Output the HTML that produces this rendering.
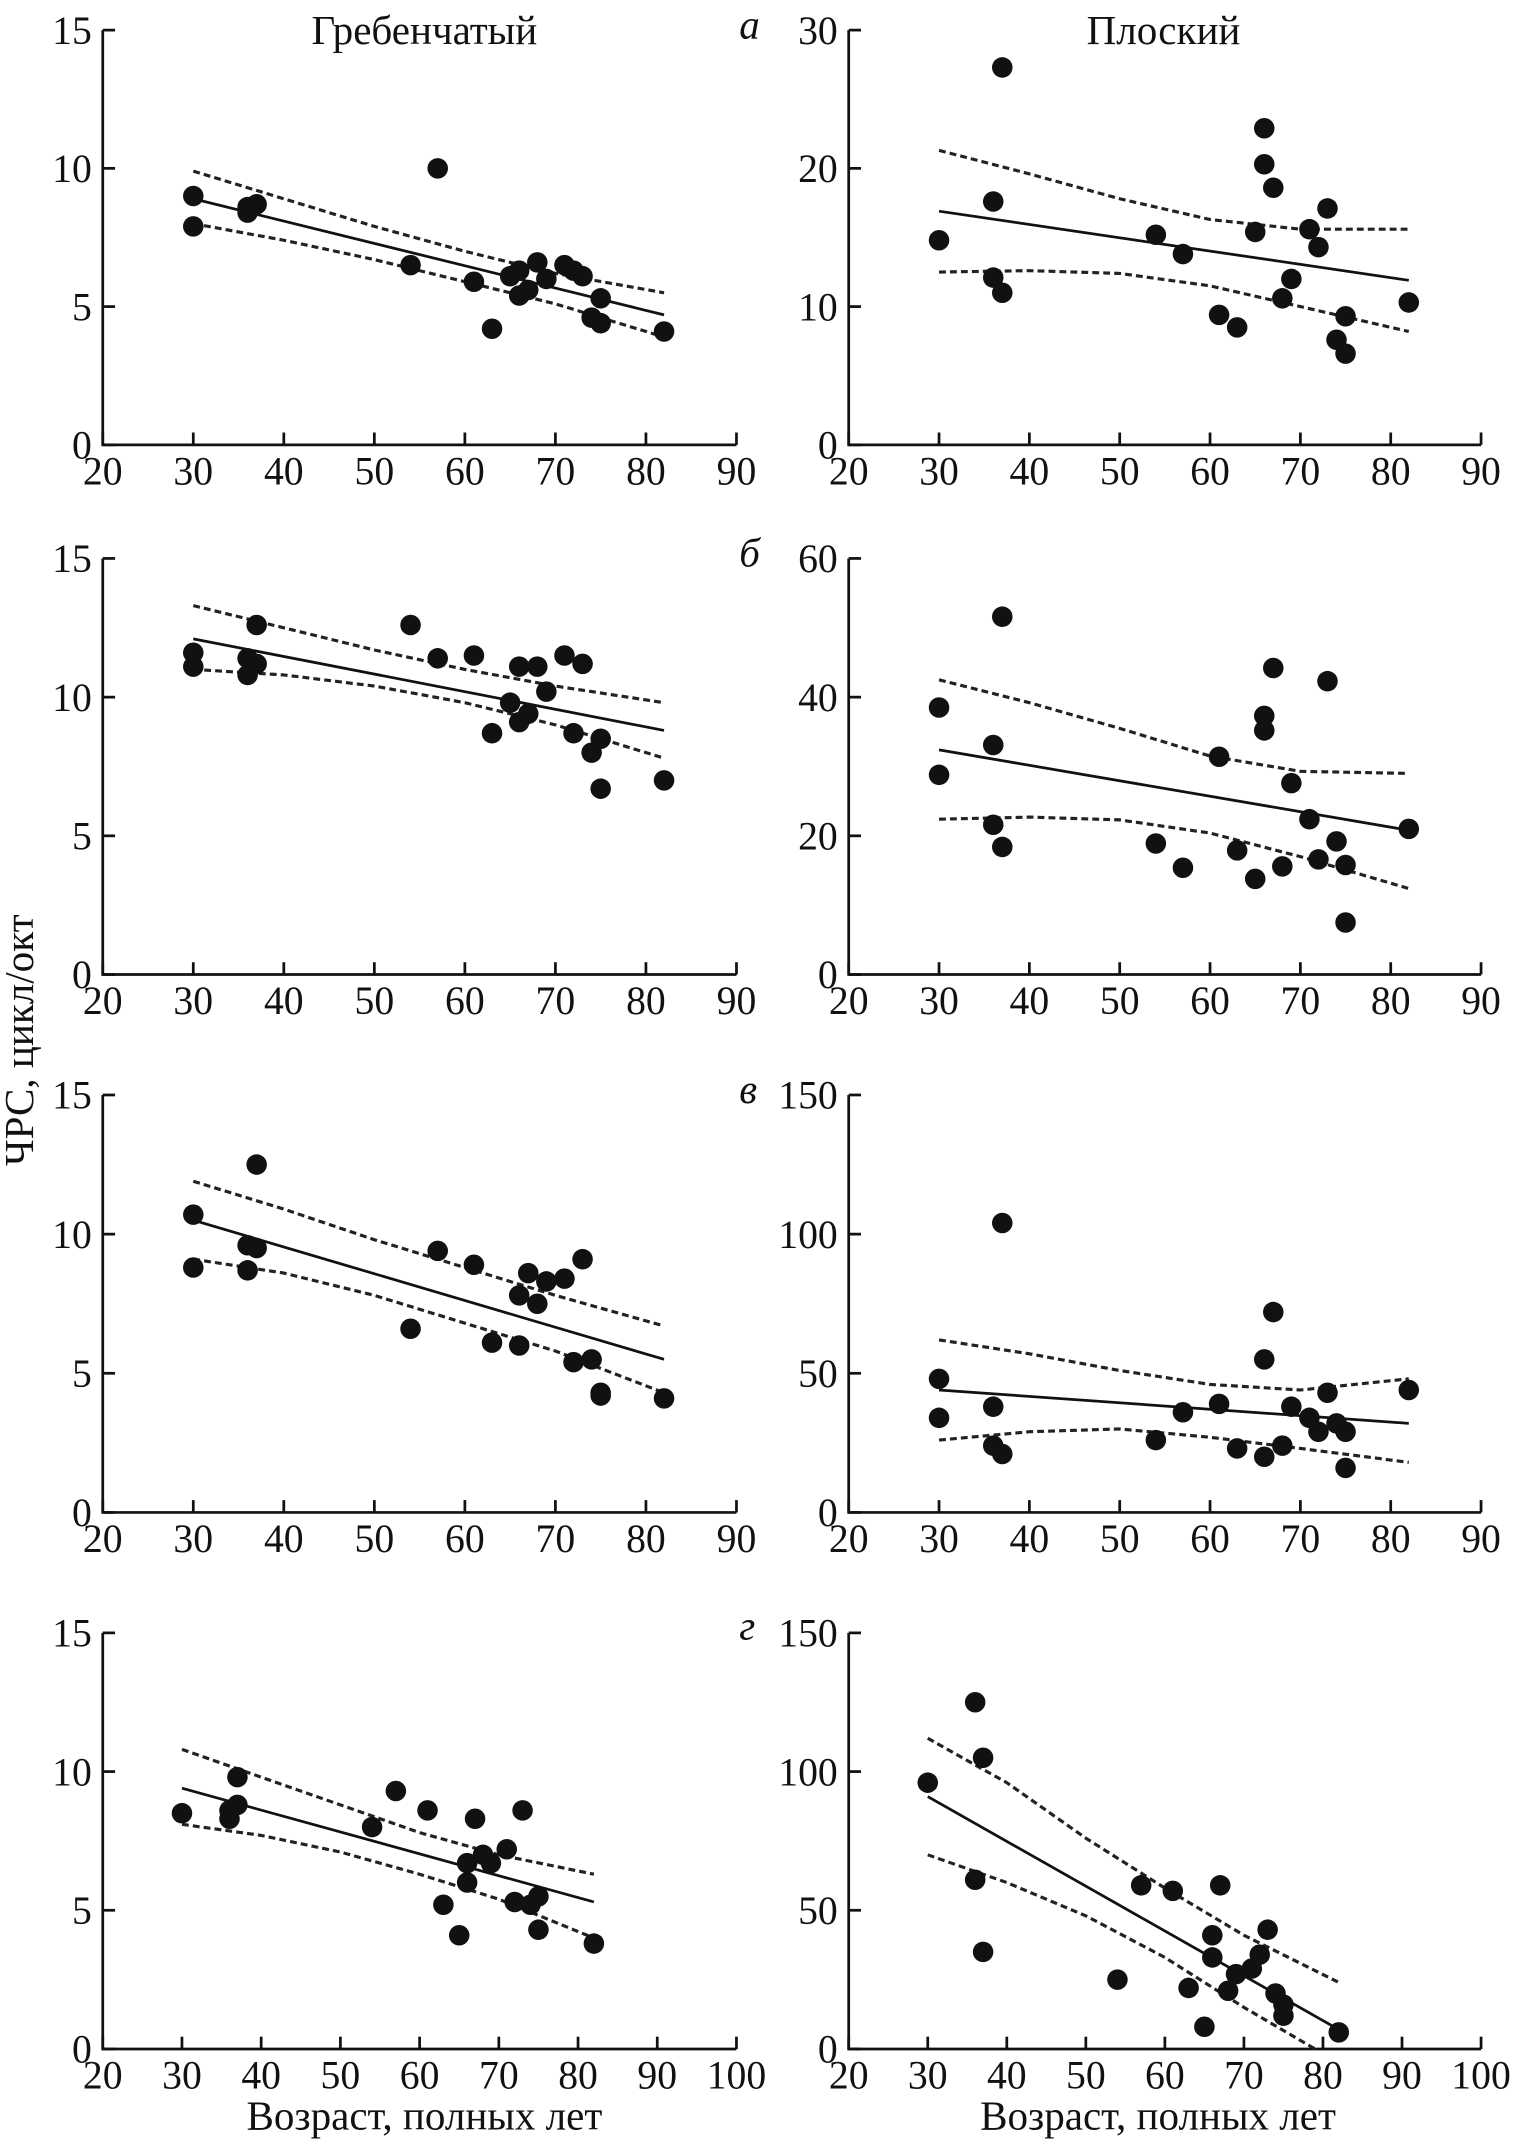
<!DOCTYPE html>
<html><head><meta charset="utf-8"><style>
html,body{margin:0;padding:0;background:#fff;}
svg{display:block;}
text{font-family:"Liberation Serif",serif;fill:#111;}
</style></head><body>
<svg id="chart" width="1514" height="2153" viewBox="0 0 1106 1573" xmlns="http://www.w3.org/2000/svg">
<text x="310" y="32" font-size="30" text-anchor="middle">Гребенчатый</text>
<text x="850" y="32" font-size="30" text-anchor="middle">Плоский</text>
<text x="180" y="1556" font-size="30">Возраст, полных лет</text>
<text x="716" y="1556" font-size="30">Возраст, полных лет</text>
<text transform="translate(24,760) rotate(-90)" font-size="30" text-anchor="middle">ЧРС, цикл/окт</text>
<text x="540" y="28" font-size="30" font-style="italic">а</text>
<text x="540" y="414" font-size="30" font-style="italic">б</text>
<text x="540" y="806" font-size="30" font-style="italic">в</text>
<text x="540" y="1198" font-size="30" font-style="italic">г</text>
</svg>
<script>
const ages = [30,30,36,36,37,37,54,57,61,63,65,66,66,67,68,69,71,72,73,74,75,75,82];
const aLeftAges = [30,30,36,36,37,54,57,61,63,65,66,66,67,68,69,71,72,73,74,75,75,82];
const aLeftVals = [9.0,7.9,8.4,8.6,8.7,6.5,10.0,5.9,4.2,6.1,6.3,5.4,5.6,6.6,6.0,6.5,6.3,6.1,4.6,4.4,5.3,4.1];
const aRightAges = [30,36,36,37,37,54,57,61,63,65,66,66,67,68,69,71,72,73,74,75,75,82];
const aRightVals = [14.8,17.6,12.1,27.3,11.0,15.2,13.8,9.4,8.5,15.4,22.9,20.3,18.6,10.6,12.0,15.6,14.3,17.1,7.6,9.3,6.6,10.3];
const bLeftVals = [11.6,11.1,11.4,10.8,11.2,12.6,12.6,11.4,11.5,8.7,9.8,11.1,9.1,9.4,11.1,10.2,11.5,8.7,11.2,8.0,8.5,6.7,7.0];
const bRightVals = [38.5,28.8,33.1,21.6,51.6,18.4,18.9,15.4,31.4,17.9,13.8,37.3,35.2,44.2,15.6,27.6,22.4,16.6,42.3,19.2,15.8,7.5,21.0];
const cAges = [30,30,36,36,37,37,54,57,61,63,66,66,67,68,69,71,72,73,74,75,75,82];
const cLeftVals = [10.7,8.8,9.6,8.7,9.5,12.5,6.6,9.4,8.9,6.1,7.8,6.0,8.6,7.5,8.3,8.4,5.4,9.1,5.5,4.3,4.2,4.1];
const cRightVals = [48,34,38,24,104,21,26,36,39,23,55,20,72,24,38,34,29,43,32,29,16,44];
const dAges = [30,36,36,37,37,54,57,61,63,65,66,66,67,68,69,71,72,73,74,75,75,82];
const dLeftVals = [8.5,8.3,8.6,9.8,8.8,8.0,9.3,8.6,5.2,4.1,6.7,6.0,8.3,7.0,6.7,7.2,5.3,8.6,5.2,5.5,4.3,3.8];
const dRightVals = [96,125,61,105,35,25,59,57,22,8,41,33,59,21,27,29,34,43,20,16,12,6];
const ciAges = [30,40,50,60,70,82];
const fitAges = [30,82];
const aLeftFit=[8.9,4.7], aLeftUp=[9.9,8.9,7.9,7.0,6.2,5.5], aLeftLo=[8.0,7.4,6.7,5.9,5.1,3.9];
const aRightFit=[16.9,11.9], aRightUp=[21.3,19.6,17.8,16.3,15.6,15.6], aRightLo=[12.5,12.6,12.4,11.5,10.0,8.2];
const bLeftFit=[12.1,8.8], bLeftUp=[13.3,12.5,11.7,11.0,10.4,9.8], bLeftLo=[11.0,10.8,10.4,9.8,9.0,7.8];
const bRightFit=[32.4,20.8], bRightUp=[42.5,39.2,35.5,31.5,29.3,29.0], bRightLo=[22.4,22.7,22.3,20.4,17.0,12.4];
const cLeftFit=[10.5,5.5], cLeftUp=[11.9,10.9,9.8,8.8,7.8,6.7], cLeftLo=[9.1,8.6,7.8,6.8,5.8,4.3];
const cRightFit=[44,32], cRightUp=[62,57,51,46,44,48], cRightLo=[26,29,30,27,23,18];
const dLeftFit=[9.4,5.3], dLeftUp=[10.8,9.8,8.8,7.8,7.0,6.3], dLeftLo=[8.1,7.7,7.1,6.3,5.4,4.0];
const dRightFit=[91,7], dRightUp=[112,96,76,58,41,24];
const dRightLoAges=[30,40,50,60,70,79], dRightLo=[70,60,48,33,15,0];
const xTicks7=[20,30,40,50,60,70,80,90], xTicks8=[20,30,40,50,60,70,80,90,100];
const yT15=[0,5,10,15], yT30=[0,10,20,30], yT60=[0,20,40,60], yT150=[0,50,100,150];

const svg=document.getElementById('chart');
const NS='http://www.w3.org/2000/svg';
function mk(tag,attrs,parent){const e=document.createElementNS(NS,tag);for(const k in attrs)e.setAttribute(k,attrs[k]);(parent||svg).appendChild(e);return e;}

function panel(name,x0,x1,yTop,yBot,xMax,yMax,xTicks,yTicks,ptAges,ptVals,fit,up,lo,upAges,loAges){
  const g=mk('g',{});
  
  
  const sx=v=>x0+(v-20)/(xMax-20)*(x1-x0);
  const sy=v=>yBot-v/yMax*(yBot-yTop);
  const ax=mk('path',{d:`M${x0},${yTop} L${x0},${yBot} L${x1},${yBot}`,fill:'none',stroke:'#111','stroke-width':2},g);
  
  
  xTicks.forEach(t=>{
    mk('line',{x1:sx(t),x2:sx(t),y1:yBot,y2:yBot-9,stroke:'#111','stroke-width':2},g);
    const tx=mk('text',{x:sx(t),y:yBot+29,'font-size':29,'text-anchor':'middle'},g);
    tx.textContent=t;
    
    
  });
  yTicks.forEach(t=>{
    mk('line',{x1:x0,x2:x0+9,y1:sy(t),y2:sy(t),stroke:'#111','stroke-width':2},g);
    const tx=mk('text',{x:x0-8,y:sy(t)+10,'font-size':29,'text-anchor':'end'},g);
    tx.textContent=t;
    
    
  });
  const fl=mk('line',{x1:sx(fitAges[0]),y1:sy(fit[0]),x2:sx(fitAges[1]),y2:sy(fit[1]),stroke:'#111','stroke-width':2},g);
  
  
  [[up,upAges,'ci-upper'],[lo,loAges,'ci-lower']].forEach(([vals,xs,n])=>{
    let d='';
    vals.forEach((v,i)=>{d+=(i?' L':'M')+sx(xs[i])+','+sy(v);});
    const p=mk('path',{d:d,fill:'none',stroke:'#222','stroke-width':2.3,'stroke-dasharray':'5 3'},g);
    
    
  });
  ptVals.forEach((v,i)=>{
    const c=mk('circle',{cx:sx(ptAges[i]),cy:sy(v),r:7.5,fill:'#111'},g);
    
    
  });
}
const L0=75,L1=538,R0=620,R1=1082;
panel('panel-a-left',L0,L1,22,325,90,15,xTicks7,yT15,aLeftAges,aLeftVals,aLeftFit,aLeftUp,aLeftLo,ciAges,ciAges);
panel('panel-a-right',R0,R1,22,325,90,30,xTicks7,yT30,aRightAges,aRightVals,aRightFit,aRightUp,aRightLo,ciAges,ciAges);
panel('panel-b-left',L0,L1,408,712,90,15,xTicks7,yT15,ages,bLeftVals,bLeftFit,bLeftUp,bLeftLo,ciAges,ciAges);
panel('panel-b-right',R0,R1,408,712,90,60,xTicks7,yT60,ages,bRightVals,bRightFit,bRightUp,bRightLo,ciAges,ciAges);
panel('panel-c-left',L0,L1,800,1105,90,15,xTicks7,yT15,cAges,cLeftVals,cLeftFit,cLeftUp,cLeftLo,ciAges,ciAges);
panel('panel-c-right',R0,R1,800,1105,90,150,xTicks7,yT150,cAges,cRightVals,cRightFit,cRightUp,cRightLo,ciAges,ciAges);
panel('panel-d-left',L0,L1,1193,1497,100,15,xTicks8,yT15,dAges,dLeftVals,dLeftFit,dLeftUp,dLeftLo,ciAges,ciAges);
panel('panel-d-right',R0,R1,1193,1497,100,150,xTicks8,yT150,dAges,dRightVals,dRightFit,dRightUp,dRightLo,ciAges,dRightLoAges);
</script>
</body></html>
